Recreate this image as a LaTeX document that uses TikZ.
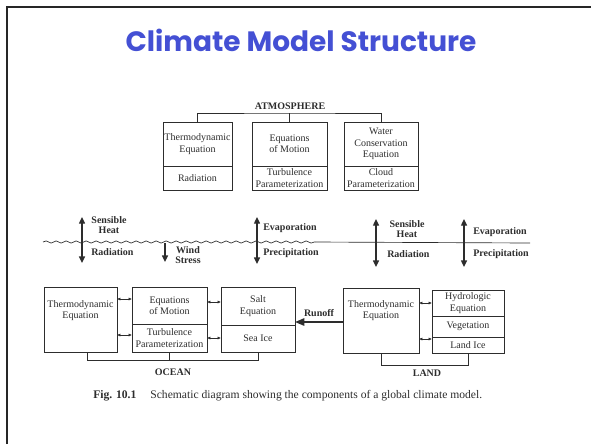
\documentclass[tikz,border=0pt]{standalone}
\usepackage{fontspec}
\setmainfont{Liberation Serif}
\newfontfamily\titlefont{Poppins}
\usetikzlibrary{arrows.meta,positioning,decorations.pathmorphing}
\definecolor{titleblue}{RGB}{68,80,212}
\definecolor{ink}{RGB}{45,45,45}

\begin{document}
\begin{tikzpicture}[x=0.75pt,y=-0.75pt,
  cell/.style={draw=ink,line width=.6pt,inner sep=0pt,outer sep=0pt,align=center,text=ink,font=\fontsize{7.5}{8.5}\selectfont},
  lbl/.style={inner sep=0pt,align=center,text=ink,font=\fontsize{7.5}{8.5}\selectfont},
  blbl/.style={inner sep=0pt,align=center,text=ink,font=\fontsize{7.5}{8}\selectfont\bfseries},
  flux/.style={draw=ink,line width=1pt,{Triangle[length=5pt,width=4.5pt]}-{Triangle[length=5pt,width=4.5pt]}},
  dbl/.style={draw=ink,line width=.6pt,{Latex[length=2.6pt,width=2.4pt]}-{Latex[length=2.6pt,width=2.4pt]}},
  bar/.style={draw=ink,line width=.6pt}]
\useasboundingbox (0,0) rectangle (591,444);

% slide frame and title
\draw[line width=1pt,black!85] (7,444) -- (7,7) -- (591,7);
\node[font=\fontsize{21}{24}\titlefont\bfseries,text=titleblue] (title) at (301,40) {Climate Model Structure};

% atmosphere
\node[blbl] (atm) at (290,106) {ATMOSPHERE};
\node[cell,minimum width=51.75pt,minimum height=33pt,anchor=north] (A1t) at (197.5,122) {Thermodynamic\\Equation};
\node[cell,minimum width=51.75pt,minimum height=18pt,below=0pt of A1t] (A1b) {Radiation};
\node[cell,minimum width=56.25pt,minimum height=33pt,anchor=north] (A2t) at (289.5,122) {Equations\\of Motion};
\node[cell,minimum width=56.25pt,minimum height=18pt,below=0pt of A2t] (A2b) {Turbulence\\Parameterization};
\node[cell,minimum width=55.5pt,minimum height=33pt,anchor=north] (A3t) at (381,122) {Water\\Conservation\\Equation};
\node[cell,minimum width=55.5pt,minimum height=18pt,below=0pt of A3t] (A3b) {Cloud\\Parameterization};
\coordinate (atmbar) at (290,113);
\draw[bar] (A1t.north) |- (atmbar) -| (A3t.north);
\draw[bar] (A2t.north) -- (A2t.north |- atmbar);

% surface and fluxes
\coordinate (sea0) at (43,242);
\coordinate (sea1) at (315,242);
\coordinate (land1) at (530,243);
\draw[ink,line width=.5pt,decorate,decoration={snake,segment length=7.5pt,amplitude=.8pt}] (sea0) -- (sea1);
\draw[ink,line width=.5pt] (sea1) -- (land1);

\coordinate (f1a) at (82,217);  \coordinate (f1b) at (82,263);
\coordinate (f2a) at (257,217); \coordinate (f2b) at (257,264);
\coordinate (f3a) at (376,219); \coordinate (f3b) at (376,267);
\coordinate (f4a) at (464,219); \coordinate (f4b) at (464,267);
\coordinate (wsa) at (165,243); \coordinate (wsb) at (165,262);
\draw[flux] (f1a) -- (f1b);
\draw[flux] (f2a) -- (f2b);
\draw[flux] (f3a) -- (f3b);
\draw[flux] (f4a) -- (f4b);
\draw[flux,{Triangle[length=5pt,width=4.5pt]}-] (wsb) -- (wsa);

\node[blbl] (sh1) at (109,225) {Sensible\\Heat};
\node[blbl,anchor=west] (rad1) at (91,252) {Radiation};
\node[blbl] (wind) at (188,255) {Wind\\Stress};
\node[blbl,anchor=west] (evap1) at (263,228) {Evaporation};
\node[blbl,anchor=west] (prec1) at (263,253) {Precipitation};
\node[blbl] (sh2) at (407,229) {Sensible\\Heat};
\node[blbl,anchor=west] (rad2) at (387,254) {Radiation};
\node[blbl,anchor=west] (evap2) at (473,232) {Evaporation};
\node[blbl,anchor=west] (prec2) at (473,254) {Precipitation};

% ocean
\node[cell,minimum width=54.75pt,minimum height=48.75pt,anchor=north] (OT) at (80.5,287) {};
\node[lbl,below=10pt of OT.north] (OTtext) {Thermodynamic\\Equation};
\node[cell,minimum width=56.25pt,minimum height=27.75pt,anchor=north] (OMt) at (169.5,287) {Equations\\of Motion};
\node[cell,minimum width=56.25pt,minimum height=21pt,below=0pt of OMt] (OMb) {Turbulence\\Parameterization};
\node[cell,minimum width=55.5pt,minimum height=28.5pt,anchor=north] (OSt) at (258,287) {Salt\\Equation};
\node[cell,minimum width=55.5pt,minimum height=20.25pt,below=0pt of OSt] (OSb) {Sea Ice};
\draw[dbl] (OT.east |- 0,299) -- (OMt.west |- 0,299);
\draw[dbl] (OT.east |- 0,335) -- (OMb.west |- 0,335);
\draw[dbl] (OMt.east |- 0,302) -- (OSt.west |- 0,302);
\draw[dbl] (OMb.east |- 0,338) -- (OSb.west |- 0,338);
\coordinate (ocbar) at (172,360);
\draw[bar] (OT.south -| 87,0) |- (ocbar) -| (OSb.south);
\draw[bar] (OMb.south) -- (OMb.south |- ocbar);
\node[blbl] (ocean) at (173,372) {OCEAN};

% land
\node[cell,minimum width=57pt,minimum height=48.75pt,anchor=north] (LT) at (381,288) {};
\node[lbl,below=9pt of LT.north] (LTtext) {Thermodynamic\\Equation};
\node[cell,minimum width=54pt,minimum height=19.5pt,anchor=north] (LH1) at (468,290) {Hydrologic\\Equation};
\node[cell,minimum width=54pt,minimum height=15.75pt,below=0pt of LH1] (LH2) {Vegetation};
\node[cell,minimum width=54pt,minimum height=12pt,below=0pt of LH2] (LH3) {Land Ice};
\draw[dbl] (LT.east |- 0,303) -- (LH1.west |- 0,303);
\draw[dbl] (LT.east |- 0,339) -- (LH3.west |- 0,339);
\coordinate (lnbar) at (420,365);
\draw[bar] (LT.south) |- (lnbar) -| (LH3.south);
\node[blbl] (land) at (427,373) {LAND};

% runoff
\draw[ink,line width=1.3pt,-{Triangle[length=7pt,width=5.5pt]}] (LT.west |- 0,322) -- (OSt.east |- 0,322);
\node[blbl] (runoff) at (319,313) {Runoff};

% caption
\node[lbl,anchor=west,font=\fontsize{8.7}{10}\selectfont] (caption) at (93,396) {\textbf{Fig. 10.1}\hspace{1.2em}Schematic diagram showing the components of a global climate model.};
\end{tikzpicture}
\end{document}
